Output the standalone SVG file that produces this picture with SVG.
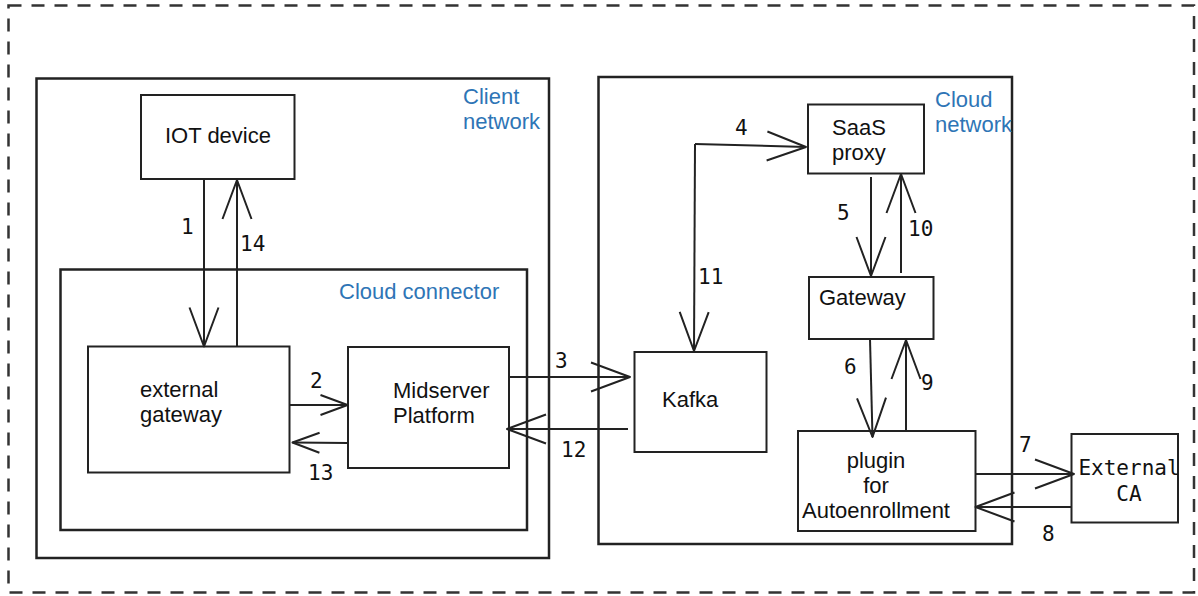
<svg xmlns="http://www.w3.org/2000/svg" width="1198" height="596" viewBox="0 0 1198 596">
  <style>
    .box { fill: #fff; stroke: #222; stroke-width: 2; }
    .area { fill: none; stroke: #222; stroke-width: 2.5; }
    .lbl { font-family: "Liberation Sans", Arial, sans-serif; font-size: 22px; fill: #111; }
    .blue { font-family: "Liberation Sans", Arial, sans-serif; font-size: 22px; fill: #2E75B6; }
    .num { font-family: "DejaVu Sans Mono", "Liberation Mono", monospace; font-size: 21px; fill: #111; }
    .mono { font-family: "DejaVu Sans Mono", "Liberation Mono", monospace; font-size: 21px; fill: #111; }
    .conn path { fill: none; stroke: #222; stroke-width: 2; }
  </style>
  <defs>
    <marker id="big" markerUnits="userSpaceOnUse" markerWidth="44" markerHeight="34" refX="40" refY="16" orient="auto" overflow="visible">
      <path d="M1,1.5 L40,16 L1,30.5" fill="none" stroke="#222" stroke-width="2" stroke-linejoin="round"/>
    </marker>
    <marker id="small" markerUnits="userSpaceOnUse" markerWidth="32" markerHeight="24" refX="28" refY="11" orient="auto" overflow="visible">
      <path d="M1,1 L28,11 L1,21" fill="none" stroke="#222" stroke-width="2" stroke-linejoin="round"/>
    </marker>
  </defs>

  <rect width="1198" height="596" fill="#fff"/>

  <!-- outer dashed border -->
  <rect x="8.5" y="5.5" width="1185.5" height="587" fill="none" stroke="#333" stroke-width="2.5" stroke-dasharray="13 10"/>

  <!-- areas -->
  <g id="client-network">
    <rect class="area" x="36.5" y="78.5" width="512.5" height="479.5"/>
    <text class="blue" x="463" y="104">Client</text>
    <text class="blue" x="463" y="129">network</text>
  </g>
  <g id="cloud-connector">
    <rect class="area" x="60.5" y="269.5" width="466.5" height="260.5"/>
    <text class="blue" x="339" y="299">Cloud connector</text>
  </g>
  <g id="cloud-network">
    <rect class="area" x="598.5" y="77" width="413.5" height="467"/>
    <text class="blue" x="935" y="107">Cloud</text>
    <text class="blue" x="935" y="132">network</text>
  </g>

  <!-- nodes -->
  <g id="iot-device">
    <rect class="box" x="141" y="95" width="153.5" height="84"/>
    <text class="lbl" x="218" y="143" text-anchor="middle">IOT device</text>
  </g>
  <g id="external-gateway">
    <rect class="box" x="88" y="346.5" width="201.5" height="126"/>
    <text class="lbl" x="140" y="397">external</text>
    <text class="lbl" x="140" y="422">gateway</text>
  </g>
  <g id="midserver">
    <rect class="box" x="348" y="347" width="161" height="121"/>
    <text class="lbl" x="393" y="398">Midserver</text>
    <text class="lbl" x="393" y="423">Platform</text>
  </g>
  <g id="kafka">
    <rect class="box" x="634.5" y="352" width="132" height="100"/>
    <text class="lbl" x="662" y="407">Kafka</text>
  </g>
  <g id="saas-proxy">
    <rect class="box" x="808" y="104.5" width="116" height="69"/>
    <text class="lbl" x="832" y="135">SaaS</text>
    <text class="lbl" x="832" y="160">proxy</text>
  </g>
  <g id="gateway">
    <rect class="box" x="809" y="277" width="124.5" height="62"/>
    <text class="lbl" x="819" y="305">Gateway</text>
  </g>
  <g id="plugin">
    <rect class="box" x="798" y="431" width="177.5" height="100"/>
    <text class="lbl" x="876" y="468" text-anchor="middle">plugin</text>
    <text class="lbl" x="876" y="493" text-anchor="middle">for</text>
    <text class="lbl" x="876" y="518" text-anchor="middle">Autoenrollment</text>
  </g>
  <g id="external-ca">
    <rect class="box" x="1071.5" y="434" width="106.5" height="88.5"/>
    <text class="mono" x="1129" y="475" text-anchor="middle">External</text>
    <text class="mono" x="1129" y="501" text-anchor="middle">CA</text>
  </g>

  <!-- connectors -->
  <g id="connectors" class="conn">
    <path d="M204,179 L204,346.5" marker-end="url(#big)"/>
    <path d="M237,346.5 L237,180" marker-end="url(#big)"/>
    <path d="M289.5,405 L347.5,405" marker-end="url(#small)"/>
    <path d="M348,443 L292.5,442.5" marker-end="url(#small)"/>
    <path d="M509,377 L630,377" marker-end="url(#big)"/>
    <path d="M628,429 L507,429" marker-end="url(#big)"/>
    <path d="M695,144 L806,147" marker-end="url(#big)"/>
    <path d="M695,144 L694,351" marker-end="url(#big)"/>
    <path d="M871,177 L871,276" marker-end="url(#big)"/>
    <path d="M901,273 L901,174" marker-end="url(#big)"/>
    <path d="M870,339 L872.5,437" marker-end="url(#big)"/>
    <path d="M906,430 L906,340" marker-end="url(#big)"/>
    <path d="M976,474 L1074,474" marker-end="url(#big)"/>
    <path d="M1071,507 L975.5,507" marker-end="url(#big)"/>
  </g>

  <!-- connector labels -->
  <g id="connector-labels">
    <text class="num" x="181" y="234">1</text>
    <text class="num" x="240" y="251">14</text>
    <text class="num" x="310" y="388">2</text>
    <text class="num" x="308" y="480">13</text>
    <text class="num" x="555" y="368">3</text>
    <text class="num" x="561" y="457">12</text>
    <text class="num" x="735" y="135">4</text>
    <text class="num" x="698" y="284">11</text>
    <text class="num" x="837" y="220">5</text>
    <text class="num" x="908" y="236">10</text>
    <text class="num" x="844" y="374">6</text>
    <text class="num" x="921" y="390">9</text>
    <text class="num" x="1019" y="452">7</text>
    <text class="num" x="1042" y="541">8</text>
  </g>
</svg>
